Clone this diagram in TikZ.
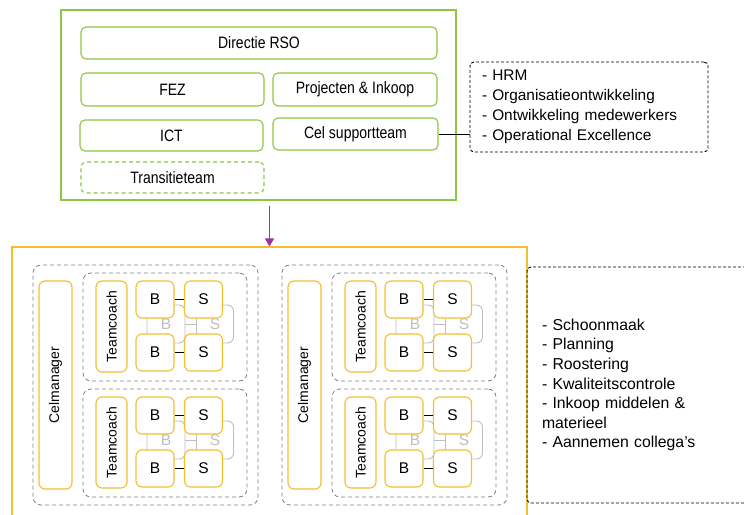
\documentclass[tikz,border=0pt]{standalone}
\usepackage{fontspec}
\setmainfont{Liberation Sans}
\newfontfamily\narrowfont[FakeStretch=0.85]{Liberation Sans}
\usetikzlibrary{arrows.meta, positioning}
\definecolor{rsogreen}{RGB}{141,198,63}
\definecolor{celgold}{RGB}{242,192,45}
\definecolor{arrowpurple}{RGB}{160,50,160}
\definecolor{groupgray}{RGB}{128,128,128}
\definecolor{ghostgray}{RGB}{190,190,190}

\begin{document}
\begin{tikzpicture}[x=1pt, y=-1pt,
  greenbox/.style={draw=rsogreen, line width=1.1pt, rounded corners=5pt, fill=white,
    inner sep=0pt, font=\narrowfont\fontsize{16.5}{18}\selectfont},
  goldbox/.style={draw=celgold, line width=1.1pt, rounded corners=6pt, fill=white,
    inner sep=0pt, font=\fontsize{14}{16}\selectfont},
  bsbox/.style={goldbox, minimum width=38, minimum height=37, font=\fontsize{15.5}{17}\selectfont},
  ghostbox/.style={draw=ghostgray, line width=0.9pt, rounded corners=6pt, inner sep=0pt,
    text=ghostgray, minimum width=38, minimum height=38, font=\fontsize{15.5}{17}\selectfont},
  groupbox/.style={draw=groupgray, line width=0.8pt, dash pattern=on 4pt off 3pt,
    rounded corners=8pt, inner sep=0pt},
  listbox/.style={draw=black, line width=0.9pt, dash pattern=on 3pt off 2pt,
    rounded corners=4pt, align=left, inner ysep=0pt}]
\useasboundingbox (0,0) rectangle (744,514);
\clip (0,0) rectangle (744,514);

% RSO staff block
\node[draw=rsogreen, line width=1.1pt, minimum width=395, minimum height=190] (rso) at (258.5,105) {};
\node[greenbox, minimum width=356, minimum height=32] (directie) at (259,43) {Directie RSO};
\node[greenbox, minimum width=183, minimum height=33] (fez) at (172.5,89.5) {FEZ};
\node[greenbox, minimum width=164, minimum height=33] (projecten) at (355,89.5) {Projecten \& Inkoop};
\node[greenbox, minimum width=183, minimum height=31] (ict) at (171.5,135.5) {ICT};
\node[greenbox, minimum width=165, minimum height=32] (support) at (355.5,134) {Cel supportteam};
\node[greenbox, dash pattern=on 4pt off 3pt, minimum width=183, minimum height=31] (transitie) at (172.5,177.5) {Transitieteam};

% tasks of the support team
\node[listbox, text width=214, inner xsep=12, minimum height=90,
  font=\fontsize{15.4}{20}\selectfont] (supportlist) at (589,107)
  {- HRM\\- Organisatieontwikkeling\\- Ontwikkeling medewerkers\\- Operational Excellence};
\draw[line width=0.8pt] (support.east) -- (support.east -| supportlist.west);

% cells
\node[draw=celgold, line width=1.1pt, minimum width=515, minimum height=300] (cells) at (269.5,397) {};
\draw[arrowpurple, line width=1.4pt, shorten <=5pt, -{Triangle[length=8pt, width=9pt]}]
  (rso.south -| cells.north) -- (cells.north);

\foreach \c/\dx in {1/0, 2/249} {
  \node[groupbox, minimum width=225, minimum height=240] (cell\c) at (145.5+\dx,385) {};
  \node[goldbox, rotate=90, minimum width=208, minimum height=33] (mgr\c) at (55.5+\dx,385) {Celmanager};
  \foreach \t/\dy in {1/0, 2/116} {
    \node[groupbox, minimum width=164, minimum height=108] (team\c\t) at (165+\dx,327+\dy) {};
    \node[goldbox, rotate=90, minimum width=91, minimum height=31] (coach\c\t) at (111.5+\dx,326.5+\dy) {Teamcoach};
    % pair in the back
    \node[ghostbox] (gb\c\t) at (166+\dx,324+\dy) {B};
    \node[ghostbox, minimum width=37] (gs\c\t) at (215+\dx,324+\dy) {S};
    \draw[ghostgray, line width=0.9pt] (gb\c\t.east) -- (gs\c\t.west);
    % front pairs
    \node[bsbox] (ba\c\t) at (155+\dx,299.5+\dy) {B};
    \node[bsbox] (sa\c\t) at (203.5+\dx,299.5+\dy) {S};
    \node[bsbox] (bb\c\t) at (155+\dx,352.5+\dy) {B};
    \node[bsbox] (sb\c\t) at (203.5+\dx,352.5+\dy) {S};
    \draw[line width=0.8pt] (ba\c\t.east) -- (sa\c\t.west);
    \draw[line width=0.8pt] (bb\c\t.east) -- (sb\c\t.west);
  }
}

% tasks of a cell
\node[listbox, text width=213, inner xsep=15, minimum height=236,
  font=\fontsize{15.8}{19.6}\selectfont] (celtasks) at (648.5,385)
  {- Schoonmaak\\- Planning\\- Roostering\\- Kwaliteitscontrole\\- Inkoop middelen \&\\materieel\\- Aannemen collega's};
\end{tikzpicture}
\end{document}
